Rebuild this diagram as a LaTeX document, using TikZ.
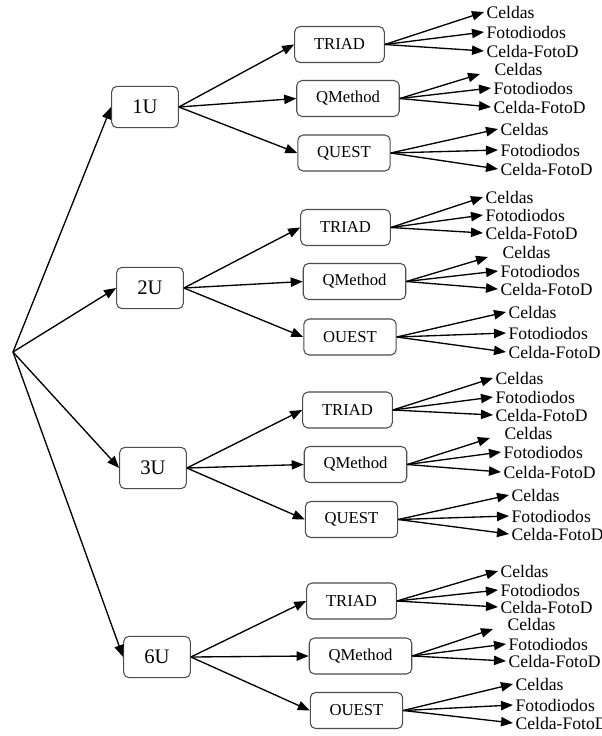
\documentclass[tikz,border=0pt]{standalone}
\usepackage{fontspec}
\setmainfont{Liberation Serif}
\usetikzlibrary{arrows.meta}

\begin{document}
\begin{tikzpicture}[x=0.75pt, y=-0.75pt, >={Triangle[length=9pt,width=7pt]},
  line width=1pt,
  unit/.style={draw=black!70, line width=0.8pt, rounded corners=4pt, minimum width=50pt, minimum height=31pt, font=\fontsize{15.5}{17}\selectfont},
  method/.style={draw=black!70, line width=0.8pt, rounded corners=4pt, inner xsep=14.5pt, minimum height=27pt, font=\fontsize{12.5}{14}\selectfont},
  leaf/.style={anchor=west, inner sep=1.5pt, font=\fontsize{13.2}{15}\selectfont}]
  \useasboundingbox (0,0) rectangle (602,736);
  % root point
  \coordinate (O) at (13,352);
  % satellite sizes
  \node[unit] (u1) at (145,107) {1U};
  \node[unit] (u2) at (150,288) {2U};
  \node[unit] (u3) at (153,468) {3U};
  \node[unit] (u6) at (157,657) {6U};
  \foreach \g in {1,2,3,6} \draw[->] (O) -- (u\g.west);
  % attitude methods
  \node[method] (t1) at (339.5,44.5) {TRIAD};
  \node[method] (q1) at (348,98.5) {QMethod};
  \node[method] (s1) at (344,153) {QUEST};
  \node[method] (t2) at (345.5,227.5) {TRIAD};
  \node[method] (q2) at (354.5,281.5) {QMethod};
  \node[method] (s2) at (350,337) {OUEST};
  \node[method] (t3) at (347.5,410) {TRIAD};
  \node[method] (q3) at (355.5,464.5) {QMethod};
  \node[method] (s3) at (351.5,519.5) {QUEST};
  \node[method] (t6) at (351.5,601) {TRIAD};
  \node[method] (q6) at (360.5,656) {QMethod};
  \node[method] (s6) at (356.5,710.5) {OUEST};
  \foreach \g in {1,2,3,6} {
    \draw[->] (u\g.east) -- (t\g.west);
    \draw[->] (u\g.east) -- (q\g.west);
    \draw[->] (u\g.east) -- (s\g.west);
  }
  % sensors
  \foreach \m/\x/\ya/\yb/\yc in {t1/484/12/32/51, t2/483/197/215/233, t3/493/378/397/415, t6/498/571/590/607,
      s1/498/129/150/169, s2/506/312/333/352, s3/509/495/516/534, s6/513/684/705/723} {
    \node[leaf] (\m-a) at (\x,\ya) {Celdas};
    \node[leaf] (\m-b) at (\x,\yb) {Fotodiodos};
    \node[leaf] (\m-c) at (\x,\yc) {Celda-FotoD};
    \draw[->] (\m.east) -- (\m-a.west);
    \draw[->] (\m.east) -- (\m-b.west);
    \draw[->] (\m.east) -- (\m-c.west);
  }
  \foreach \m/\xa/\ya/\x/\yb/\yc in {q1/492/69/491/88/107, q2/500/252/498/271/289, q3/502/433/501/452/472, q6/505/624/506/644/661} {
    \node[leaf] (\m-a) at (\xa,\ya) {Celdas};
    \node[leaf] (\m-b) at (\x,\yb) {Fotodiodos};
    \node[leaf] (\m-c) at (\x,\yc) {Celda-FotoD};
    \draw[->] (\m.east) -- ([shift={(-12,5)}]\m-a.west);
    \draw[->] (\m.east) -- (\m-b.west);
    \draw[->] (\m.east) -- (\m-c.west);
  }
\end{tikzpicture}
\end{document}
